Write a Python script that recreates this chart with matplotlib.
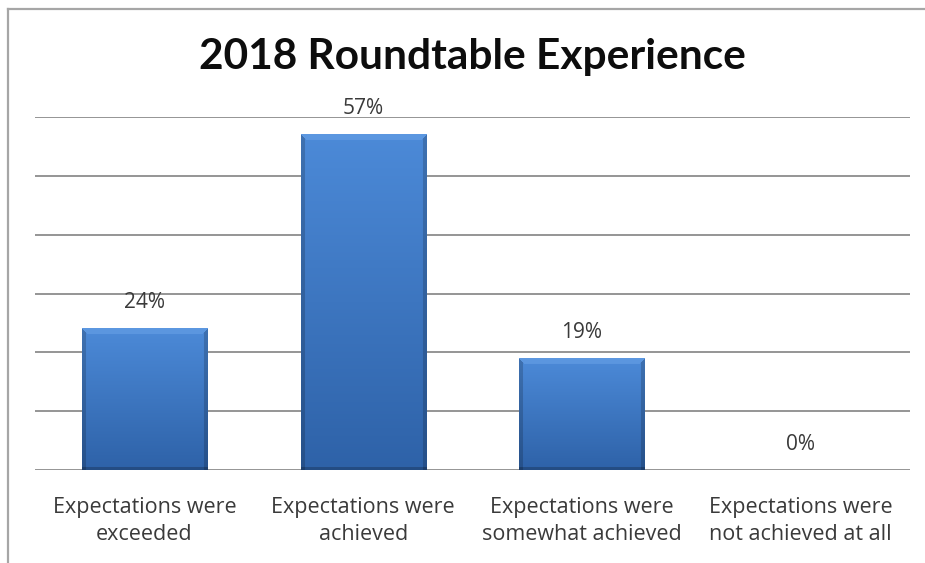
import numpy as np
import matplotlib
matplotlib.use("Agg")
import matplotlib.pyplot as plt
from matplotlib.lines import Line2D

# Survey results
categories = [
    "Expectations were\nexceeded",
    "Expectations were\nachieved",
    "Expectations were\nsomewhat achieved",
    "Expectations were\nnot achieved at all",
]
percentages = [24, 57, 19, 0]
title = "2018 Roundtable Experience"

BODY_FONT = ["Open Sans", "DejaVu Sans"]
TITLE_FONT = ["Lato", "DejaVu Sans"]
W, H, DPI = 925, 563, 100

fig = plt.figure(figsize=(W / DPI, H / DPI), dpi=DPI)
fig.patch.set_facecolor("white")

# Outer chart frame (top and left edges)
fig.add_artist(Line2D([8 / W, 1.0], [1 - 9 / H, 1 - 9 / H], transform=fig.transFigure,
                      color="#a6a6a6", lw=1.6))
fig.add_artist(Line2D([8 / W, 8 / W], [0, 1 - 9 / H], transform=fig.transFigure,
                      color="#a6a6a6", lw=1.6))

ax = fig.add_axes([35 / W, 1 - 470 / H, 875 / W, (470 - 117) / H])
ax.set_xlim(-0.5, len(categories) - 0.5)
ax.set_ylim(0, 60)
ax.set_yticks(np.arange(0, 61, 10))
ax.yaxis.grid(True, color="#8c8c8c", lw=1.3)
ax.set_axisbelow(True)
for s in ax.spines.values():
    s.set_visible(False)
ax.tick_params(axis="y", left=False, labelleft=False)
ax.tick_params(axis="x", bottom=False, pad=16)
ax.set_xticks(range(len(categories)))
ax.set_xticklabels(categories, fontsize=15.5, color="#3a3a3a", family=BODY_FONT,
                   linespacing=1.4)

bar_w = 0.572
bars = ax.bar(range(len(categories)), percentages, width=bar_w, color="none",
              edgecolor="none")

fig.canvas.draw()
top_c = np.array([0x4c, 0x8a, 0xd8]) / 255
bot_c = np.array([0x2e, 0x62, 0xa8]) / 255
for rect in bars:
    h = rect.get_height()
    if h <= 0:
        continue
    x0, y0 = rect.get_x(), rect.get_y()
    x1, y1 = x0 + rect.get_width(), y0 + h
    p0 = ax.transData.transform((x0, y0))
    p1 = ax.transData.transform((x1, y1))
    pw = int(round(p1[0] - p0[0]))
    ph = int(round(p1[1] - p0[1]))
    t = np.linspace(0, 1, ph)[:, None]
    img = top_c[None, None, :] * (1 - t[..., None]) + bot_c[None, None, :] * t[..., None]
    img = np.repeat(img, pw, axis=1)
    yy, xx = np.mgrid[0:ph, 0:pw]
    # bevelled edges: bright top, darker sides and bottom
    bev = 6
    d_left = xx
    d_right = pw - 1 - xx
    d_top = yy
    d_bot = ph - 1 - yy
    top_band = (d_top < bev) & (d_top <= d_left) & (d_top <= d_right)
    side_band = ((d_left < 4) | (d_right < 4)) & ~top_band
    bot_band = (d_bot < 3)
    img[top_band] = img[top_band] * 0.75 + np.array([0.55, 0.75, 0.98]) * 0.25
    img[side_band] = img[side_band] * 0.82
    img[bot_band] = img[bot_band] * 0.78
    ax.imshow(img, extent=(x0, x1, y0, y1), aspect="auto", interpolation="bilinear",
              zorder=2)

ax.set_xlim(-0.5, len(categories) - 0.5)
ax.set_ylim(0, 60)

for i, v in enumerate(percentages):
    ax.annotate(f"{v}%", (i, v), xytext=(0, 26), textcoords="offset pixels",
                ha="center", va="center", fontsize=15, color="#3a3a3a",
                family=BODY_FONT)

fig.text(472 / W, 1 - 57 / H, title, ha="center", va="center", fontsize=30.5,
         fontweight="bold", color="#0d0d0d", family=TITLE_FONT)

fig.savefig("out.png", dpi=DPI, facecolor="white")
